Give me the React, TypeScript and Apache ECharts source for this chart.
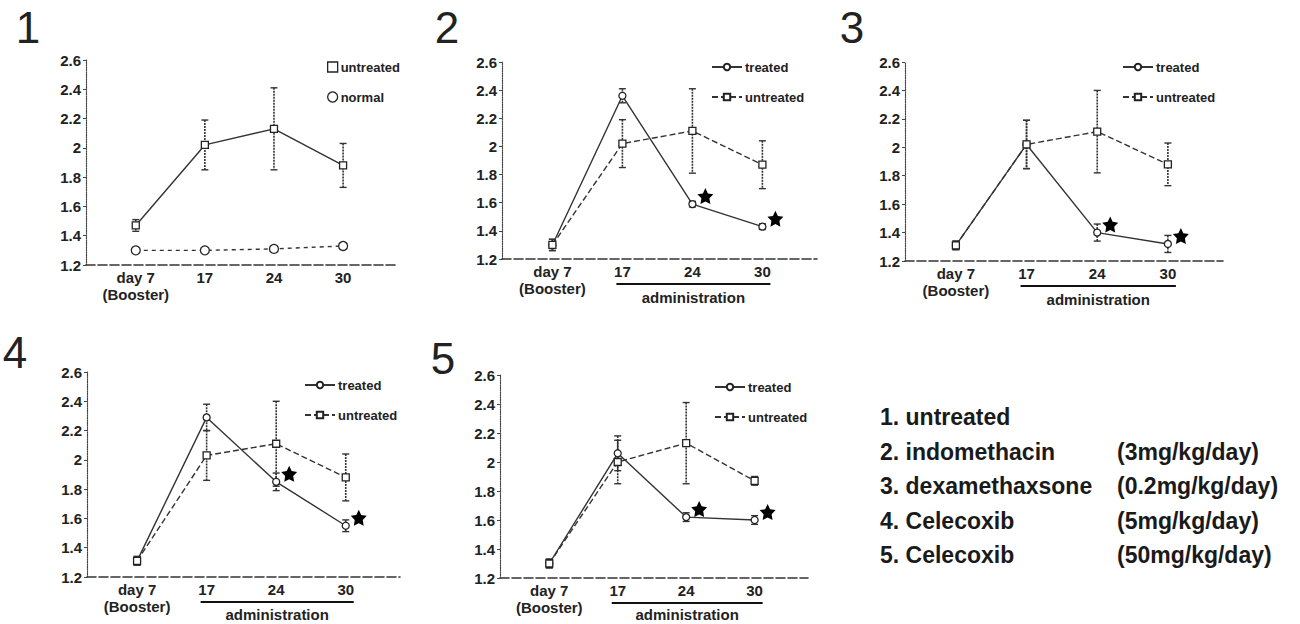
import React, { useEffect, useRef } from "react";
import * as echarts from "echarts";

// ---------- data ----------
const X_LABELS = ["day 7", "17", "24", "30"];
const X_POS = [0, 1, 2, 3];
const Y_MIN = 1.2;
const Y_MAX = 2.6;
const Y_STEP = 0.2;

const PANEL_NUMBERS = ["1", "2", "3", "4", "5"];

// panel 1
const P1_UNTREATED = [1.47, 2.02, 2.13, 1.88];
const P1_UNTREATED_ERR = [0.04, 0.17, 0.28, 0.15];
const P1_NORMAL = [1.3, 1.3, 1.31, 1.33];
const P1_NORMAL_ERR = [0.02, 0.01, 0.02, 0.02];

// panel 2: indomethacin
const P2_TREATED = [1.3, 2.36, 1.59, 1.43];
const P2_TREATED_ERR = [0.04, 0.05, 0.02, 0.02];
const P2_UNTREATED = [1.3, 2.02, 2.11, 1.87];
const P2_UNTREATED_ERR = [0.04, 0.17, 0.3, 0.17];

// panel 3: dexamethaxsone
const P3_TREATED = [1.31, 2.02, 1.4, 1.32];
const P3_TREATED_ERR = [0.03, 0.17, 0.06, 0.06];
const P3_UNTREATED = [1.31, 2.02, 2.11, 1.88];
const P3_UNTREATED_ERR = [0.03, 0.17, 0.29, 0.15];

// panel 4: Celecoxib 5
const P4_TREATED = [1.31, 2.29, 1.85, 1.55];
const P4_TREATED_ERR = [0.03, 0.09, 0.06, 0.04];
const P4_UNTREATED = [1.31, 2.03, 2.11, 1.88];
const P4_UNTREATED_ERR = [0.03, 0.17, 0.29, 0.16];

// panel 5: Celecoxib 50
const P5_TREATED = [1.3, 2.06, 1.62, 1.6];
const P5_TREATED_ERR = [0.03, 0.12, 0.03, 0.03];
const P5_UNTREATED = [1.3, 2.0, 2.13, 1.87];
const P5_UNTREATED_ERR = [0.03, 0.15, 0.28, 0.03];

// significance stars on the treated series (indices of days)
const STAR_INDICES = [2, 3];

const DRUG_NAMES = [
  "1. untreated",
  "2. indomethacin",
  "3. dexamethaxsone",
  "4. Celecoxib",
  "5. Celecoxib",
];
const DRUG_DOSES = ["", "(3mg/kg/day)", "(0.2mg/kg/day)", "(5mg/kg/day)", "(50mg/kg/day)"];

// ---------- layout ----------
const X_MIN = -0.72;
const X_MAX = 3.78;
const GRIDS = [
  { left: 86, top: 60, width: 311, height: 205 },
  { left: 502, top: 62, width: 315, height: 197 },
  { left: 905, top: 62, width: 318, height: 199 },
  { left: 87, top: 372, width: 313, height: 205 },
  { left: 500, top: 375, width: 308, height: 203 },
];
const LEGEND_POS = [
  { left: 322, top: 54 },
  { left: 706, top: 54 },
  { left: 1117, top: 54 },
  { left: 299, top: 372 },
  { left: 709, top: 374 },
];
const NUMBER_POS = [
  [28, 27],
  [447, 27],
  [852, 27],
  [15, 352],
  [443, 358],
];

const FONT = "'Liberation Sans', Arial, Helvetica, sans-serif";
const INK = "#222";
const LINE = "#333";
const STAR =
  "path://M0,-10 L2.94,-4.05 L9.51,-3.09 L4.76,1.55 L5.88,8.09 L0,5.2 L-5.88,8.09 L-4.76,1.55 L-9.51,-3.09 L-2.94,-4.05 Z";

type SeriesDef = {
  name: string;
  label: string;
  values: number[];
  errs: number[];
  kind: "treated" | "untreated" | "normal";
};

const PANELS: SeriesDef[][] = [
  [
    { name: "untreated#1", label: "untreated", values: P1_UNTREATED, errs: P1_UNTREATED_ERR, kind: "untreated" },
    { name: "normal#1", label: "normal", values: P1_NORMAL, errs: P1_NORMAL_ERR, kind: "normal" },
  ],
  [
    { name: "treated#2", label: "treated", values: P2_TREATED, errs: P2_TREATED_ERR, kind: "treated" },
    { name: "untreated#2", label: "untreated", values: P2_UNTREATED, errs: P2_UNTREATED_ERR, kind: "untreated" },
  ],
  [
    { name: "treated#3", label: "treated", values: P3_TREATED, errs: P3_TREATED_ERR, kind: "treated" },
    { name: "untreated#3", label: "untreated", values: P3_UNTREATED, errs: P3_UNTREATED_ERR, kind: "untreated" },
  ],
  [
    { name: "treated#4", label: "treated", values: P4_TREATED, errs: P4_TREATED_ERR, kind: "treated" },
    { name: "untreated#4", label: "untreated", values: P4_UNTREATED, errs: P4_UNTREATED_ERR, kind: "untreated" },
  ],
  [
    { name: "treated#5", label: "treated", values: P5_TREATED, errs: P5_TREATED_ERR, kind: "treated" },
    { name: "untreated#5", label: "untreated", values: P5_UNTREATED, errs: P5_UNTREATED_ERR, kind: "untreated" },
  ],
];

function errorBarRender(params: any, api: any) {
  const x = api.value(0);
  const y = api.value(1);
  const e = api.value(2);
  const top = api.coord([x, y + e]);
  const bot = api.coord([x, y - e]);
  const w = 3.5;
  const style = { stroke: LINE, lineWidth: 1.6, lineDash: [2, 1] };
  const cap = { stroke: LINE, lineWidth: 1.4 };
  return {
    type: "group",
    children: [
      { type: "line", shape: { x1: top[0], y1: top[1], x2: bot[0], y2: bot[1] }, style },
      { type: "line", shape: { x1: top[0] - w, y1: top[1], x2: top[0] + w, y2: top[1] }, style: cap },
      { type: "line", shape: { x1: bot[0] - w, y1: bot[1], x2: bot[0] + w, y2: bot[1] }, style: cap },
    ],
  };
}

function buildOption() {
  const grid: any[] = [];
  const xAxis: any[] = [];
  const yAxis: any[] = [];
  const series: any[] = [];
  const legend: any[] = [];

  PANELS.forEach((defs, i) => {
    grid.push({ ...GRIDS[i], containLabel: false });
    xAxis.push({
      type: "value",
      gridIndex: i,
      min: X_MIN,
      max: X_MAX,
      splitLine: { show: false },
      axisLine: { show: true, onZero: false, lineStyle: { color: LINE, width: 1.6, type: [9, 3] } },
      axisTick: { show: false },
      axisLabel: {
        customValues: X_POS,
        formatter: (v: number) => {
          const idx = Math.round(v);
          return idx === 0 ? X_LABELS[0] + "\n(Booster)" : X_LABELS[idx];
        },
        fontFamily: FONT,
        fontSize: 15,
        fontWeight: "bold",
        color: INK,
        lineHeight: 17,
        margin: 4,
      },
    });
    yAxis.push({
      type: "value",
      gridIndex: i,
      min: Y_MIN,
      max: Y_MAX,
      interval: Y_STEP,
      splitLine: { show: false },
      axisLine: { show: true, onZero: false, lineStyle: { color: "#444", width: 1.2, type: "dotted" } },
      axisTick: { show: true, length: 3, lineStyle: { color: "#444" } },
      axisLabel: {
        fontFamily: FONT,
        fontSize: 15,
        fontWeight: "bold",
        color: INK,
        margin: 5,
        formatter: (v: number) => String(Math.round(v * 10) / 10),
      },
    });

    defs.forEach((d) => {
      const isTreated = d.kind === "treated";
      const isNormal = d.kind === "normal";
      series.push({
        type: "line",
        name: d.name,
        xAxisIndex: i,
        yAxisIndex: i,
        data: X_POS.map((x, j) => [x, d.values[j]]),
        symbol: isTreated || isNormal ? "circle" : "rect",
        symbolSize: isNormal ? 9 : 7,
        itemStyle: { color: "#fff", borderColor: INK, borderWidth: 1.3 },
        lineStyle: {
          color: LINE,
          width: 1.4,
          type: isTreated ? "solid" : isNormal ? [4, 4] : i === 0 ? "solid" : [6, 3],
        },
        z: 3,
      });
      series.push({
        type: "custom",
        name: d.name + "-err",
        xAxisIndex: i,
        yAxisIndex: i,
        renderItem: errorBarRender,
        encode: { x: 0, y: 1 },
        data: X_POS.map((x, j) => [x, d.values[j], d.errs[j]]),
        z: 2,
        silent: true,
      });
      if (isTreated) {
        series.push({
          type: "scatter",
          name: d.name + "-star",
          xAxisIndex: i,
          yAxisIndex: i,
          data: STAR_INDICES.map((j) => [X_POS[j], d.values[j]]),
          symbol: STAR,
          symbolSize: 16,
          symbolOffset: [13, -8],
          itemStyle: { color: "#000", opacity: 1 },
          z: 4,
          silent: true,
        });
      }
    });

    const isFirst = i === 0;
    legend.push({
      orient: "vertical",
      left: LEGEND_POS[i].left,
      top: LEGEND_POS[i].top,
      itemWidth: isFirst ? 10 : 30,
      itemHeight: isFirst ? 10 : 8,
      itemGap: 14,
      selectedMode: false,
      formatter: (name: string) => name.split("#")[0],
      textStyle: { fontFamily: FONT, fontSize: 13, fontWeight: "bold", color: INK, lineHeight: 16, padding: [0, 0, 0, -2] },
      data: defs.map((d) =>
        isFirst
          ? {
              name: d.name,
              icon: d.kind === "normal" ? "circle" : "rect",
              itemStyle: { color: "#fff", borderColor: INK, borderWidth: 1.3 },
            }
          : { name: d.name }
      ),
    });
  });

  return {
    animation: false,
    backgroundColor: "#fff",
    textStyle: { fontFamily: FONT },
    grid,
    xAxis,
    yAxis,
    series,
    legend,
  };
}

export default function App() {
  const ref = useRef<HTMLDivElement>(null);

  useEffect(() => {
    if (!ref.current) return;
    const chart = echarts.init(ref.current, null, { renderer: "svg" });
    chart.setOption(buildOption());

    const graphic: any[] = [];
    // panel numbers
    PANEL_NUMBERS.forEach((n, i) => {
      graphic.push({
        type: "text",
        x: NUMBER_POS[i][0],
        y: NUMBER_POS[i][1],
        style: {
          text: n,
          fontFamily: FONT,
          fontSize: 44,
          fontWeight: "normal",
          fill: INK,
          textAlign: "center",
          textVerticalAlign: "middle",
        },
      });
    });
    // administration bars (panels 2-5), positioned through the axes
    for (let i = 1; i < PANELS.length; i++) {
      const p17 = chart.convertToPixel({ gridIndex: i } as any, [X_POS[1], Y_MIN]) as number[];
      const p30 = chart.convertToPixel({ gridIndex: i } as any, [X_POS[3], Y_MIN]) as number[];
      const yLine = p17[1] + 25;
      graphic.push({
        type: "line",
        shape: { x1: p17[0] - 6, y1: yLine, x2: p30[0] + 8, y2: yLine },
        style: { stroke: "#111", lineWidth: 2.2 },
      });
      graphic.push({
        type: "text",
        x: (p17[0] + p30[0]) / 2 + 1,
        y: Math.min(yLine + 13, 614),
        style: {
          text: "administration",
          fontFamily: FONT,
          fontSize: 15,
          fontWeight: "bold",
          fill: INK,
          textAlign: "center",
          textVerticalAlign: "middle",
        },
      });
    }
    // treatment key
    const keyTop = 417;
    const keyStep = 34.5;
    DRUG_NAMES.forEach((t, k) => {
      graphic.push({
        type: "text",
        x: 880,
        y: keyTop + k * keyStep,
        style: {
          text: t,
          fontFamily: FONT,
          fontSize: 23,
          fontWeight: "bold",
          fill: "#1a1a1a",
          textVerticalAlign: "middle",
        },
      });
      if (DRUG_DOSES[k]) {
        graphic.push({
          type: "text",
          x: 1117,
          y: keyTop + k * keyStep,
          style: {
            text: DRUG_DOSES[k],
            fontFamily: FONT,
            fontSize: 23,
            fontWeight: "bold",
            fill: "#1a1a1a",
            textVerticalAlign: "middle",
          },
        });
      }
    });
    chart.setOption({ graphic });

    return () => chart.dispose();
  }, []);

  return (
    <div
      ref={ref}
      style={{ position: "fixed", left: 0, top: 0, width: 1300, height: 624, background: "#fff" }}
    />
  );
}
